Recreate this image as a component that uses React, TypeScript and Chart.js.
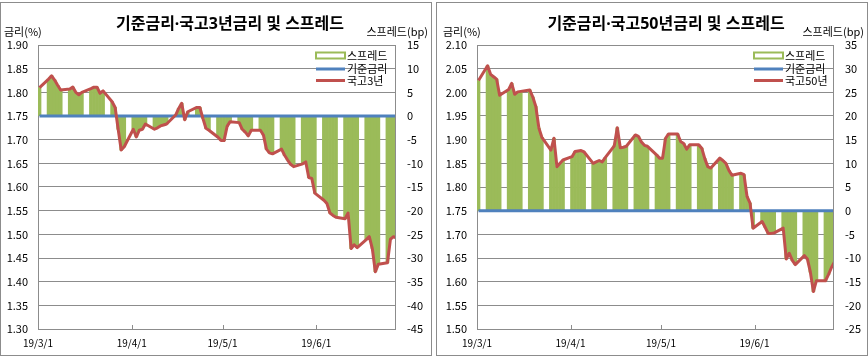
import React, { useEffect, useRef } from 'react';
import { Chart, registerables } from 'chart.js';

Chart.register(...registerables);

const FONT = '"Noto Sans CJK KR", "Noto Sans", sans-serif';
const TITLE_FONT = '"Noto Sans", "Noto Sans CJK KR", sans-serif';
const GRID = '#8c8c8c';
const GREEN = '#9BBB59';
const BLUE = '#4F81BD';
const RED = '#C0504D';

const BASE_RATE = 1.75;

const tradeDates = [
  '3/1',
  '3/4', '3/5', '3/6', '3/7', '3/8',
  '3/11', '3/12', '3/13', '3/14', '3/15',
  '3/18', '3/19', '3/20', '3/21', '3/22',
  '3/25', '3/26', '3/27', '3/28', '3/29',
  '4/1', '4/2', '4/3', '4/4', '4/5',
  '4/8', '4/9', '4/10', '4/11', '4/12',
  '4/15', '4/16', '4/17', '4/18', '4/19',
  '4/22', '4/23', '4/24', '4/25', '4/26',
  '4/29', '4/30', '5/1', '5/2', '5/3',
  '5/6', '5/7', '5/8', '5/9', '5/10',
  '5/13', '5/14', '5/15', '5/16', '5/17',
  '5/20', '5/21', '5/22', '5/23', '5/24',
  '5/27', '5/28', '5/29', '5/30', '5/31',
  '6/3', '6/4', '6/5', '6/6', '6/7',
  '6/10', '6/11', '6/12', '6/13', '6/14',
  '6/17', '6/18', '6/19', '6/20', '6/21',
  '6/24', '6/25', '6/26', '6/27',
];

const rate3y = [
  1.810,
  1.828, 1.835, 1.826, 1.815, 1.805,
  1.807, 1.811, 1.800, 1.795, 1.800,
  1.808, 1.811, 1.811, 1.798, 1.803,
  1.780, 1.768, 1.722, 1.678, 1.685,
  1.722, 1.706, 1.720, 1.722, 1.733,
  1.722, 1.725, 1.729, 1.731, 1.733,
  1.752, 1.766, 1.777, 1.742, 1.759,
  1.768, 1.768, 1.745, 1.724, 1.720,
  1.705, 1.698, 1.698, 1.728, 1.738,
  1.736, 1.722, 1.716, 1.708, 1.720,
  1.720, 1.710, 1.680, 1.672, 1.670,
  1.680, 1.667, 1.657, 1.648, 1.643,
  1.649, 1.653, 1.620, 1.618, 1.587,
  1.572, 1.565, 1.545, 1.540, 1.536,
  1.533, 1.545, 1.470, 1.478, 1.472,
  1.489, 1.495, 1.470, 1.421, 1.437,
  1.440, 1.490, 1.495, 1.492,
];

const rate50y = [
  2.025,
  2.056, 2.038, 2.033, 2.028, 1.994,
  2.006, 2.019, 1.996, 2.001, 2.002,
  2.005, 1.990, 1.970, 1.925, 1.905,
  1.878, 1.903, 1.843, 1.850, 1.857,
  1.864, 1.875, 1.876, 1.877, 1.874,
  1.850, 1.853, 1.856, 1.853, 1.862,
  1.887, 1.925, 1.883, 1.884, 1.886,
  1.910, 1.907, 1.895, 1.888, 1.886,
  1.868, 1.861, 1.861, 1.903, 1.912,
  1.912, 1.896, 1.892, 1.880, 1.889,
  1.889, 1.882, 1.860, 1.843, 1.840,
  1.861, 1.856, 1.850, 1.835, 1.825,
  1.829, 1.826, 1.780, 1.766, 1.713,
  1.727, 1.715, 1.702, 1.702, 1.703,
  1.713, 1.648, 1.660, 1.645, 1.636,
  1.655, 1.648, 1.620, 1.579, 1.602,
  1.602, 1.615, 1.630, 1.642,
];

const axisStartDate = '3/1';
const axisEndDate = '6/28';
const xTickDates = ['3/1', '4/1', '5/1', '6/1'];
const xTickLabels = ['19/3/1', '19/4/1', '19/5/1', '19/6/1'];

function dayIndex(md: string): number {
  const [m, d] = md.split('/').map(Number);
  const [m0, d0] = axisStartDate.split('/').map(Number);
  return Math.round((Date.UTC(2019, m - 1, d) - Date.UTC(2019, m0 - 1, d0)) / 86400000);
}

const tickDays = xTickDates.map(dayIndex);

type Spec = {
  title: string;
  seriesLabel: string;
  rates: number[];
  leftMin: number;
  leftMax: number;
  rightMin: number;
  rightMax: number;
  leftAxisWidth: number;
  rightAxisWidth: number;
};

const decorPlugin = {
  id: 'decor',
  afterDraw(chart: any, _args: any, opts: any) {
    const ctx = chart.ctx;
    const area = chart.chartArea;
    ctx.save();
    ctx.fillStyle = '#000';
    // title
    ctx.font = `bold 16px ${TITLE_FONT}`;
    ctx.textAlign = 'center';
    ctx.textBaseline = 'middle';
    ctx.fillText(opts.title, 229, 21);
    // axis titles
    ctx.font = `11px ${FONT}`;
    ctx.textAlign = 'left';
    ctx.fillText('금리(%)', opts.axisTitleLeft, 29);
    ctx.textAlign = 'right';
    ctx.fillText('스프레드(bp)', 427, 29);
    // legend
    const keyRight = area.right - 50;
    const keyLeft = keyRight - 29;
    const rows = [52.5, 66, 77.5];
    ctx.fillStyle = '#fff';
    ctx.fillRect(keyLeft, rows[0] - 3, 29, 6);
    ctx.strokeStyle = GREEN;
    ctx.lineWidth = 2;
    ctx.strokeRect(keyLeft, rows[0] - 3, 29, 6);
    ctx.lineWidth = 3;
    ctx.strokeStyle = BLUE;
    ctx.beginPath();
    ctx.moveTo(keyLeft, rows[1]);
    ctx.lineTo(keyRight, rows[1]);
    ctx.stroke();
    ctx.strokeStyle = RED;
    ctx.beginPath();
    ctx.moveTo(keyLeft, rows[2]);
    ctx.lineTo(keyRight, rows[2]);
    ctx.stroke();
    ctx.fillStyle = '#000';
    ctx.font = `11px ${FONT}`;
    ctx.textAlign = 'left';
    ctx.textBaseline = 'middle';
    ctx.fillText('스프레드', keyRight + 2, rows[0]);
    ctx.fillText('기준금리', keyRight + 2, rows[1]);
    ctx.fillText(opts.seriesLabel, keyRight + 2, rows[2]);
    // inner tick marks on the date axis
    const xs = chart.scales.x;
    ctx.strokeStyle = GRID;
    ctx.lineWidth = 1;
    tickDays.forEach((d: number) => {
      const px = Math.round(xs.getPixelForValue(d)) + 0.5;
      ctx.beginPath();
      ctx.moveTo(px, area.bottom);
      ctx.lineTo(px, area.bottom - 4);
      ctx.stroke();
    });
    ctx.restore();
  },
};

function makeConfig(spec: Spec, axisTitleLeft: number): any {
  const pts = (vals: number[]) =>
    tradeDates.map((t, i) => ({ x: dayIndex(t) + 0.5, y: vals[i] }));
  const spreadBp = spec.rates.map((v) => Math.round((v - BASE_RATE) * 1000) / 10);
  const baseLine = spec.rates.map(() => BASE_RATE);
  const tickFont = { family: FONT, size: 11 };
  return {
    type: 'bar',
    data: {
      datasets: [
        {
          type: 'bar',
          label: '스프레드',
          data: pts(spreadBp),
          yAxisID: 'y2',
          backgroundColor: GREEN,
          borderWidth: 0,
          barPercentage: 1,
          categoryPercentage: 1,
          order: 3,
        },
        {
          type: 'line',
          label: '기준금리',
          data: pts(baseLine),
          yAxisID: 'y',
          borderColor: BLUE,
          borderWidth: 3,
          pointRadius: 0,
          order: 2,
        },
        {
          type: 'line',
          label: spec.seriesLabel,
          data: pts(spec.rates),
          yAxisID: 'y',
          borderColor: RED,
          borderWidth: 3,
          pointRadius: 0,
          borderJoinStyle: 'round',
          tension: 0,
          order: 1,
        },
      ],
    },
    options: {
      responsive: false,
      animation: false,
      events: [],
      layout: { padding: { top: 42, left: 0, right: 0, bottom: 0 } },
      plugins: {
        legend: { display: false },
        tooltip: { enabled: false },
        title: { display: false },
        decor: { title: spec.title, seriesLabel: spec.seriesLabel, axisTitleLeft },
      },
      scales: {
        x: {
          type: 'linear',
          min: 0,
          max: dayIndex(axisEndDate) - 1,
          offset: false,
          grid: { display: true, drawOnChartArea: false, drawTicks: false, color: GRID },
          border: { display: true, color: GRID },
          afterBuildTicks: (s: any) => {
            s.ticks = tickDays.map((v) => ({ value: v }));
          },
          ticks: {
            callback: (v: any) => {
              const i = tickDays.indexOf(Number(v));
              return i >= 0 ? xTickLabels[i] : '';
            },
            font: { family: FONT, size: 10 },
            color: '#000',
            padding: 8,
            maxRotation: 0,
            autoSkip: false,
          },
          afterFit: (s: any) => {
            s.height = 26;
          },
        },
        y: {
          position: 'left',
          min: spec.leftMin,
          max: spec.leftMax,
          ticks: {
            stepSize: 0.05,
            callback: (v: any) => Number(v).toFixed(2),
            font: tickFont,
            color: '#000',
            padding: 10,
          },
          grid: { color: GRID, drawTicks: false },
          border: { color: GRID },
          afterFit: (s: any) => {
            s.width = spec.leftAxisWidth;
          },
        },
        y2: {
          position: 'right',
          min: spec.rightMin,
          max: spec.rightMax,
          ticks: {
            stepSize: 5,
            callback: (v: any) => String(Math.round(Number(v))),
            font: tickFont,
            color: '#000',
            padding: 12,
          },
          grid: { drawOnChartArea: false, drawTicks: false },
          border: { color: GRID },
          afterFit: (s: any) => {
            s.width = spec.rightAxisWidth;
          },
        },
      },
    },
    plugins: [decorPlugin],
  };
}

function ChartBox({ left, spec, axisTitleLeft }: { left: number; spec: Spec; axisTitleLeft: number }) {
  const ref = useRef<HTMLCanvasElement | null>(null);
  useEffect(() => {
    if (!ref.current) return;
    const chart = new Chart(ref.current, makeConfig(spec, axisTitleLeft));
    return () => chart.destroy();
  }, []);
  return (
    <div
      style={{
        position: 'absolute',
        left,
        top: 2,
        width: 430,
        height: 352,
        border: `1px solid ${GRID}`,
        background: '#fff',
      }}
    >
      <canvas ref={ref} width={430} height={352} style={{ display: 'block', width: 430, height: 352 }} />
    </div>
  );
}

const spec3y: Spec = {
  title: '기준금리·국고3년금리 및 스프레드',
  seriesLabel: '국고3년',
  rates: rate3y,
  leftMin: 1.3,
  leftMax: 1.9,
  rightMin: -45,
  rightMax: 15,
  leftAxisWidth: 37,
  rightAxisWidth: 36,
};

const spec50y: Spec = {
  title: '기준금리·국고50년금리 및 스프레드',
  seriesLabel: '국고50년',
  rates: rate50y,
  leftMin: 1.5,
  leftMax: 2.1,
  rightMin: -25,
  rightMax: 35,
  leftAxisWidth: 40,
  rightAxisWidth: 34,
};

export default function App() {
  return (
    <div
      style={{
        position: 'fixed',
        left: 0,
        top: 0,
        width: 868,
        height: 358,
        background: '#fff',
        overflow: 'hidden',
      }}
    >
      <ChartBox left={0} spec={spec3y} axisTitleLeft={3} />
      <ChartBox left={436} spec={spec50y} axisTitleLeft={6} />
    </div>
  );
}
